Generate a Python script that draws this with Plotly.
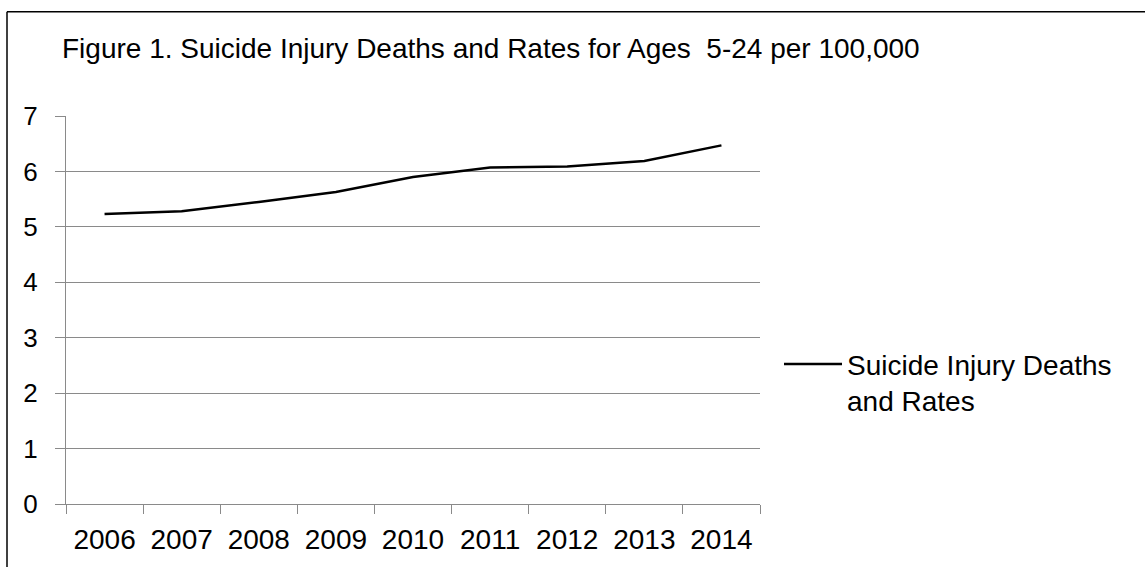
import plotly.graph_objects as go

years = ["2006", "2007", "2008", "2009", "2010", "2011", "2012", "2013", "2014"]
rates = [5.23, 5.28, 5.45, 5.63, 5.90, 6.07, 6.09, 6.19, 6.47]
y_ticks = [0, 1, 2, 3, 4, 5, 6, 7]
series_name = "Suicide Injury Deaths<br>and Rates"
title_text = "Figure 1. Suicide Injury Deaths and Rates for Ages  5-24 per 100,000"

W, H = 1145, 567
L, R, T, B = 66, 385, 116, 60
pw, ph = W - L - R, H - T - B

def px_x(px):
    return (px - L) / pw

def px_y(py):
    return (H - B - py) / ph

FONT = "Liberation Sans, Arial, sans-serif"
GRID = "#8a8a8a"

fig = go.Figure()
fig.add_trace(go.Scatter(
    x=years, y=rates, mode="lines", name=series_name,
    line=dict(color="black", width=2.5),
))

fig.update_layout(
    width=W, height=H,
    margin=dict(l=L, r=R, t=T, b=B),
    paper_bgcolor="white", plot_bgcolor="white",
    font=dict(family=FONT, color="black"),
    title=dict(text=title_text, xref="container", x=62 / W, xanchor="left",
               yref="container", y=1 - 48 / H, yanchor="middle",
               font=dict(size=28, family=FONT, color="black")),
    showlegend=True,
    legend=dict(x=px_x(779), xanchor="left", y=px_y(341), yanchor="top",
                font=dict(size=28, family=FONT, color="black"),
                itemwidth=58, valign="top", bgcolor="rgba(0,0,0,0)",
                tracegroupgap=0),
    xaxis=dict(type="category", tickson="boundaries", ticks="outside",
               ticklen=9, tickcolor=GRID, tickwidth=1,
               showline=True, linecolor=GRID, linewidth=1,
               showgrid=False, tickfont=dict(size=28, family=FONT, color="black"),
               ticklabelstandoff=10,
               range=[-0.5, 8.5]),
    yaxis=dict(range=[0, 7], tickvals=y_ticks, ticks="outside", ticklen=10,
               tickcolor=GRID, tickwidth=1, showline=True, linecolor=GRID,
               linewidth=1, showgrid=True, gridcolor=GRID, gridwidth=1,
               zeroline=False, tickfont=dict(size=26, family=FONT, color="black"),
               ticklabelstandoff=12),
    shapes=[
        dict(type="line", xref="paper", yref="paper", x0=px_x(7), x1=px_x(7),
             y0=px_y(11), y1=px_y(600), line=dict(color="black", width=1.5)),
        dict(type="line", xref="paper", yref="paper", x0=px_x(7), x1=px_x(1200),
             y0=px_y(11), y1=px_y(11), line=dict(color="black", width=1.5)),
    ],
)

fig.write_html("out.html")
